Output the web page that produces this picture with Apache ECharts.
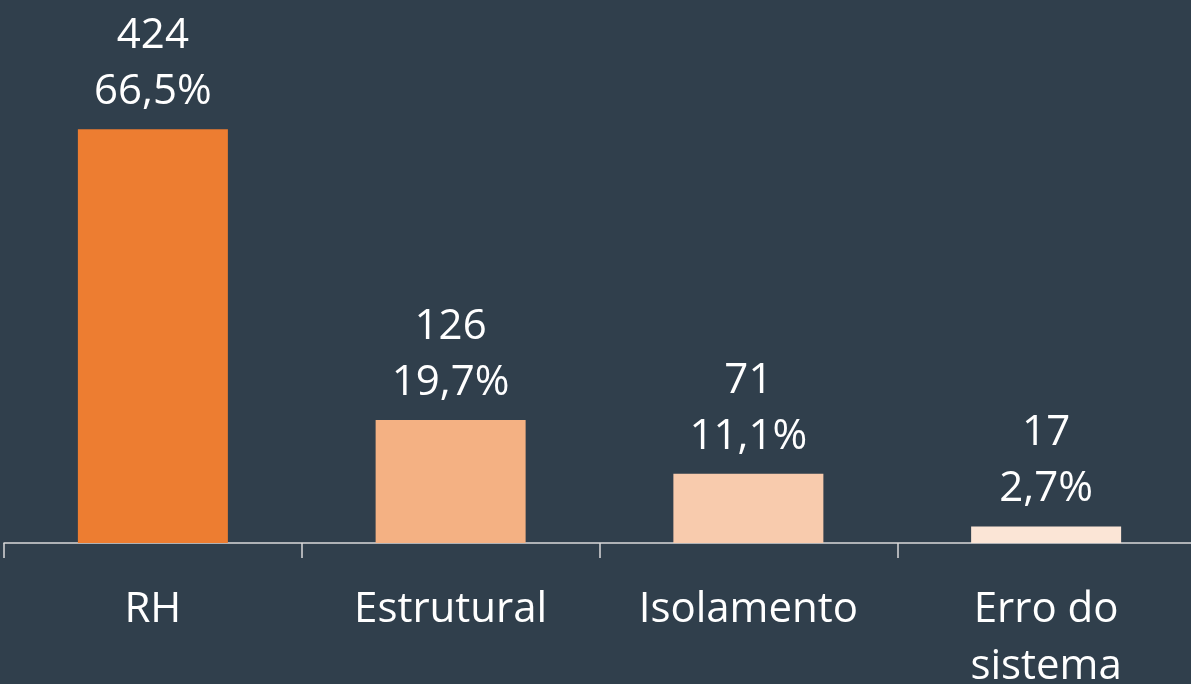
<!DOCTYPE html>
<html>
<head>
<meta charset="utf-8">
<script src="https://cdn.jsdelivr.net/npm/echarts@6/dist/echarts.min.js"></script>
<style>
  html, body { margin: 0; padding: 0; background: #303f4c; }
  #chart { width: 1191px; height: 684px; }
</style>
</head>
<body>
<div id="chart"></div>
<script>
// dados do gráfico
var categorias = ['RH', 'Estrutural', 'Isolamento', 'Erro do\nsistema'];
var valores = [424, 126, 71, 17];
var percentuais = ['66,5%', '19,7%', '11,1%', '2,7%'];
var cores = ['#ED7D31', '#F4B183', '#F8CBAD', '#FBE5D6'];

var chart = echarts.init(document.getElementById('chart'));

chart.setOption({
  backgroundColor: '#303f4c',
  textStyle: { fontFamily: 'Open Sans' },
  grid: { left: 4, width: 1191, top: 55, bottom: 141, containLabel: false, outerBoundsMode: 'none' },
  xAxis: {
    type: 'category',
    data: categorias,
    axisLine: { lineStyle: { color: '#d9d9d9', width: 1.5 } },
    axisTick: { show: true, alignWithLabel: false, interval: 0, length: 15, lineStyle: { color: '#d9d9d9', width: 1.5 } },
    axisLabel: {
      color: '#ffffff',
      fontSize: 42,
      lineHeight: 57,
      margin: 39,
      interval: 0
    }
  },
  yAxis: {
    type: 'value',
    min: 0,
    max: 500,
    show: false,
    splitLine: { show: false }
  },
  series: [{
    type: 'bar',
    barWidth: 150,
    data: valores.map(function (v, i) {
      return { value: v, itemStyle: { color: cores[i] } };
    }),
    label: {
      show: true,
      position: 'top',
      distance: 9,
      color: '#ffffff',
      fontSize: 42,
      lineHeight: 56,
      formatter: function (p) {
        return valores[p.dataIndex] + '\n' + percentuais[p.dataIndex];
      }
    }
  }]
});
</script>
</body>
</html>
